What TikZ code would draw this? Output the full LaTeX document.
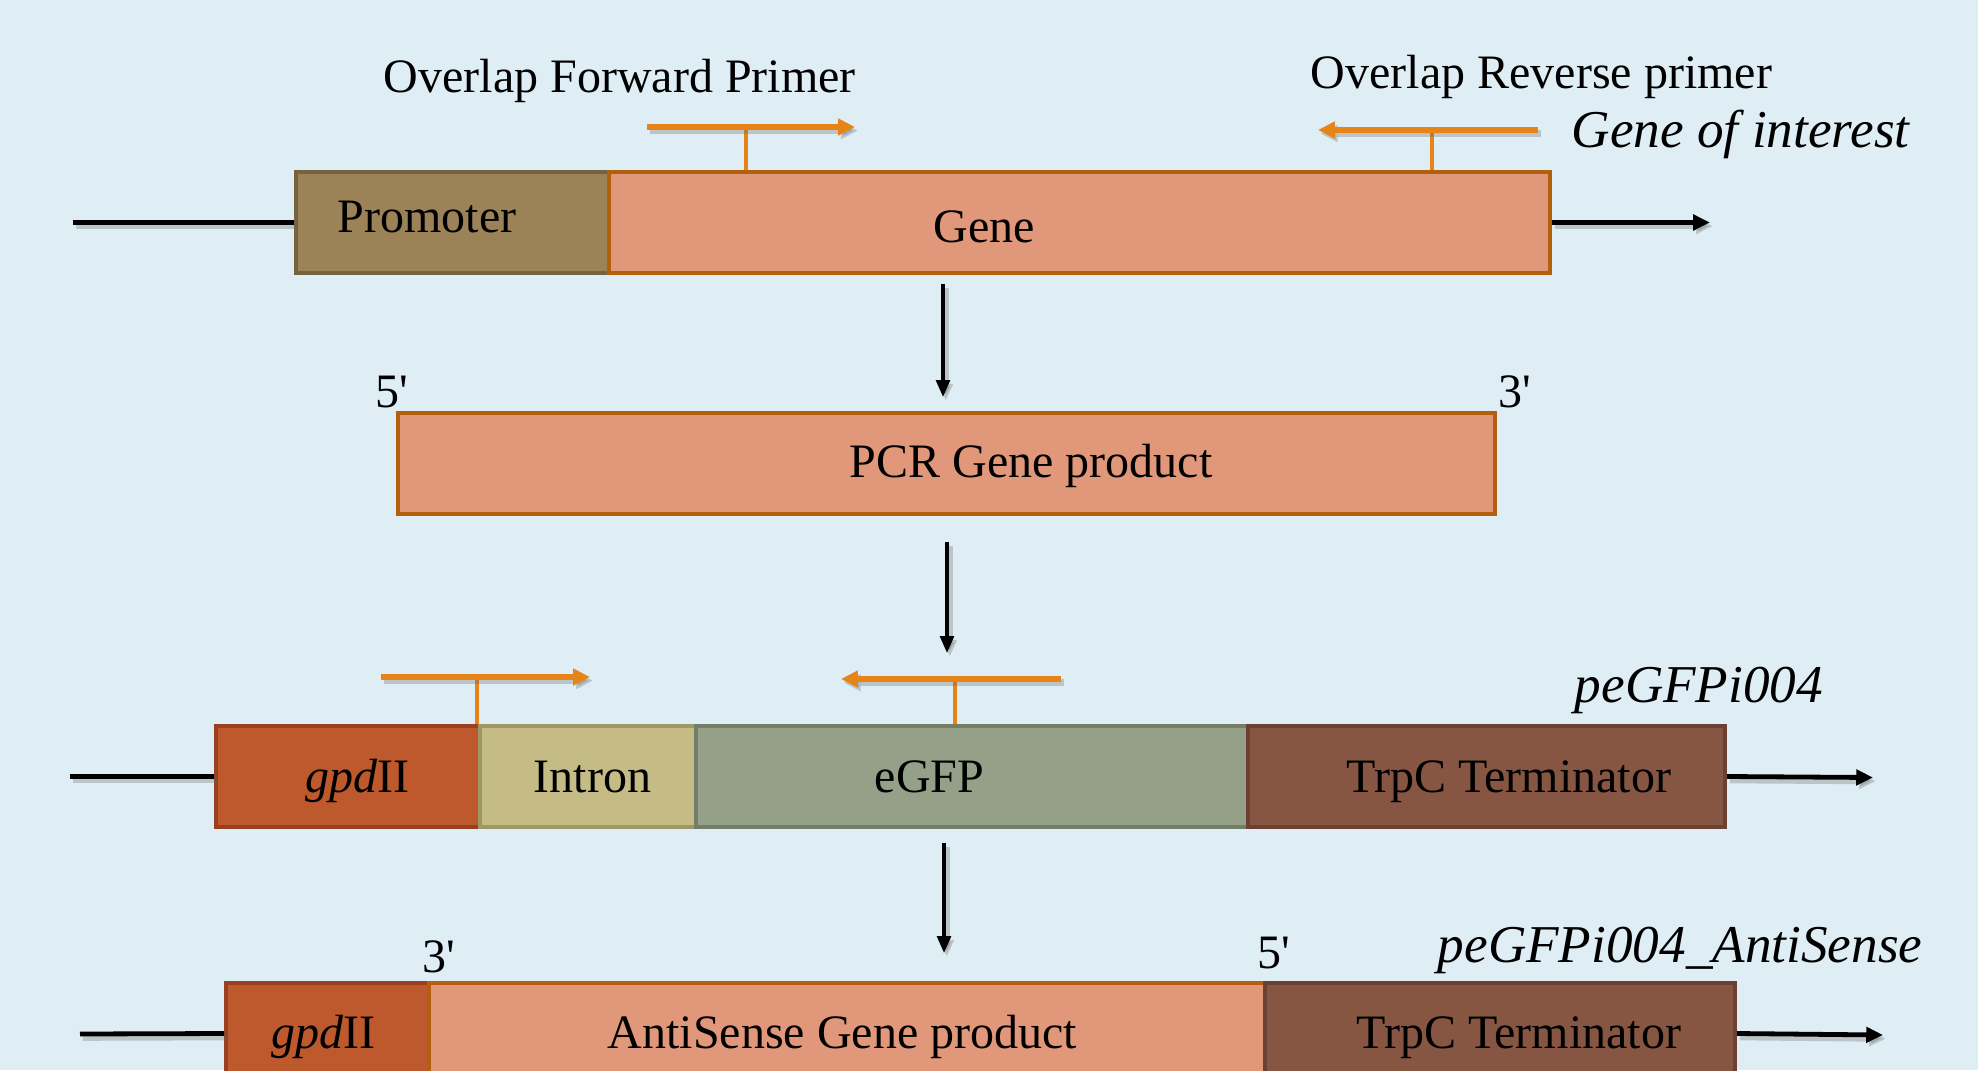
\documentclass[tikz,border=0pt]{standalone}
\usepackage{fontspec}
\setmainfont{Liberation Serif}
\usetikzlibrary{arrows.meta}

\definecolor{bg}{RGB}{223,237,245}
\definecolor{promfill}{RGB}{155,130,87}
\definecolor{promline}{RGB}{118,98,63}
\definecolor{genefill}{RGB}{225,151,121}
\definecolor{geneline}{RGB}{178,95,14}
\definecolor{gpdfill}{RGB}{190,88,45}
\definecolor{gpdline}{RGB}{152,64,31}
\definecolor{intronfill}{RGB}{196,188,132}
\definecolor{intronline}{RGB}{157,152,101}
\definecolor{egfpfill}{RGB}{149,160,136}
\definecolor{egfpline}{RGB}{115,125,104}
\definecolor{trpcfill}{RGB}{134,86,66}
\definecolor{trpcline}{RGB}{106,65,50}
\definecolor{primer}{RGB}{230,132,24}

\tikzset{
  box/.style={rectangle, inner sep=0pt, line width=1pt, minimum height=25.25pt},
  lbl/.style={inner sep=0pt, anchor=base west, font=\fontsize{12}{14}\selectfont},
  ilbl/.style={lbl, font=\fontsize{13.3}{15}\selectfont\itshape},
  soft/.style={preaction={draw=black!60, opacity=0.3, line width=1.6pt, transform canvas={shift={(0.7pt,-0.9pt)}}}},
  backbone/.style={soft, line width=1.2pt, -{Triangle[length=4.2pt,width=3.8pt]}},
  plainline/.style={soft, line width=1.2pt},
  step arrow/.style={soft, line width=0.85pt, -{Triangle[length=4.2pt,width=3.4pt]}},
  primerbar/.style={soft, draw=primer, line width=1.4pt, -{Triangle[length=4.2pt,width=4pt]}},
  primerstem/.style={draw=primer, line width=0.9pt},
}

\begin{document}
\begin{tikzpicture}[x=0.25pt, y=-0.25pt]
\useasboundingbox (0,0) rectangle (1978,1070);
\fill[bg] (0,0) rectangle (1978,1070);
\clip (0,0) rectangle (1978,1070);

% ---- gene of interest ----
\node[box, fill=promfill, draw=promline, minimum width=78.25pt] (prom) at (452.5,222.5) {};
\node[box, fill=genefill, draw=geneline, minimum width=235.25pt] (gene) at (1079.5,222.5) {};
\node[lbl] (tprom) at (337,233) {Promoter};
\node[lbl] (tgene) at (933,242) {Gene};

\coordinate (l1) at (73,222.5);
\coordinate (r1) at (1710,222.5);
\draw[plainline] (l1) -- (prom.west);
\draw[backbone] (gene.east) -- (r1);

% primers on the gene
\coordinate (f1a) at (647,127);
\coordinate (f1b) at (855,127);
\coordinate (f1s) at (746,127);
\draw[primerstem] (f1s) -- (f1s |- gene.north);
\draw[primerbar] (f1a) -- (f1b);
\coordinate (r1a) at (1538,130);
\coordinate (r1b) at (1318,130);
\coordinate (r1s) at (1432,130);
\draw[primerstem] (r1s) -- (r1s |- gene.north);
\draw[primerbar] (r1a) -- (r1b);

\node[lbl] (tfwd) at (383,93) {Overlap Forward Primer};
\node[lbl] (trev) at (1310,89) {Overlap Reverse primer};
\node[ilbl] (tgoi) at (1571,148) {Gene of interest};

% ---- PCR product ----
\coordinate (a1s) at (943,284);
\coordinate (a1e) at (943,397);
\draw[step arrow] (a1s) -- (a1e);

\node[box, fill=genefill, draw=geneline, minimum width=274.25pt] (pcr) at (946.5,463.5) {};
\node[lbl] (tpcr) at (849,477) {PCR Gene product};
\node[lbl] (p5a) at (375,407) {5\textquotesingle};
\node[lbl] (p3a) at (1498,407) {3\textquotesingle};

\coordinate (a2s) at (947,542);
\coordinate (a2e) at (947,653);
\draw[step arrow] (a2s) -- (a2e);

% ---- peGFPi004 ----
\node[box, fill=gpdfill, draw=gpdline, minimum width=66pt] (gpd3) at (348,776.5) {};
\node[box, fill=intronfill, draw=intronline, minimum width=54pt] (intron) at (588,776.5) {};
\node[box, fill=egfpfill, draw=egfpline, minimum width=138pt] (egfp) at (972,776.5) {};
\node[box, fill=trpcfill, draw=trpcline, minimum width=119.25pt] (trpc3) at (1486.5,776.5) {};
\node[lbl] (tgpd3) at (305,792) {\textit{gpd}II};
\node[lbl] (tintron) at (533,792) {Intron};
\node[lbl] (tegfp) at (874,792) {eGFP};
\node[lbl] (ttrpc3) at (1346,792) {TrpC Terminator};
\node[ilbl] (tvec) at (1574,702) {peGFPi004};

\coordinate (l3) at (70,776.5);
\coordinate (r3) at (1873,777.5);
\draw[plainline] (l3) -- (gpd3.west);
\draw[backbone] (trpc3.east) -- (r3);

\coordinate (f3a) at (381,677);
\coordinate (f3b) at (590,677);
\coordinate (f3s) at (477,677);
\draw[primerstem] (f3s) -- (f3s |- gpd3.north);
\draw[primerbar] (f3a) -- (f3b);
\coordinate (r3a) at (1061,679);
\coordinate (r3b) at (841,679);
\coordinate (r3s) at (955,679);
\draw[primerstem] (r3s) -- (r3s |- egfp.north);
\draw[primerbar] (r3a) -- (r3b);

\coordinate (a3s) at (944,843);
\coordinate (a3e) at (944,953);
\draw[step arrow] (a3s) -- (a3e);

% ---- peGFPi004_AntiSense ----
\node[box, fill=gpdfill, draw=gpdline, minimum width=50.75pt] (gpd4) at (327.5,1033.5) {};
\node[box, fill=genefill, draw=geneline, minimum width=209pt] (anti) at (847,1033.5) {};
\node[box, fill=trpcfill, draw=trpcline, minimum width=117.5pt] (trpc4) at (1500,1033.5) {};
\node[lbl] (tgpd4) at (271,1048) {\textit{gpd}II};
\node[lbl] (tanti) at (607,1048) {AntiSense Gene product};
\node[lbl] (ttrpc4) at (1356,1048) {TrpC Terminator};
\node[lbl] (p3b) at (422,972) {3\textquotesingle};
\node[lbl] (p5b) at (1257,968) {5\textquotesingle};
\node[ilbl] (tvec2) at (1437,962) {peGFPi004\_AntiSense};

\coordinate (l4) at (80,1034);
\coordinate (r4) at (1883,1035);
\draw[plainline] (l4) -- (gpd4.west);
\draw[backbone] (trpc4.east) -- (r4);
\end{tikzpicture}
\end{document}
